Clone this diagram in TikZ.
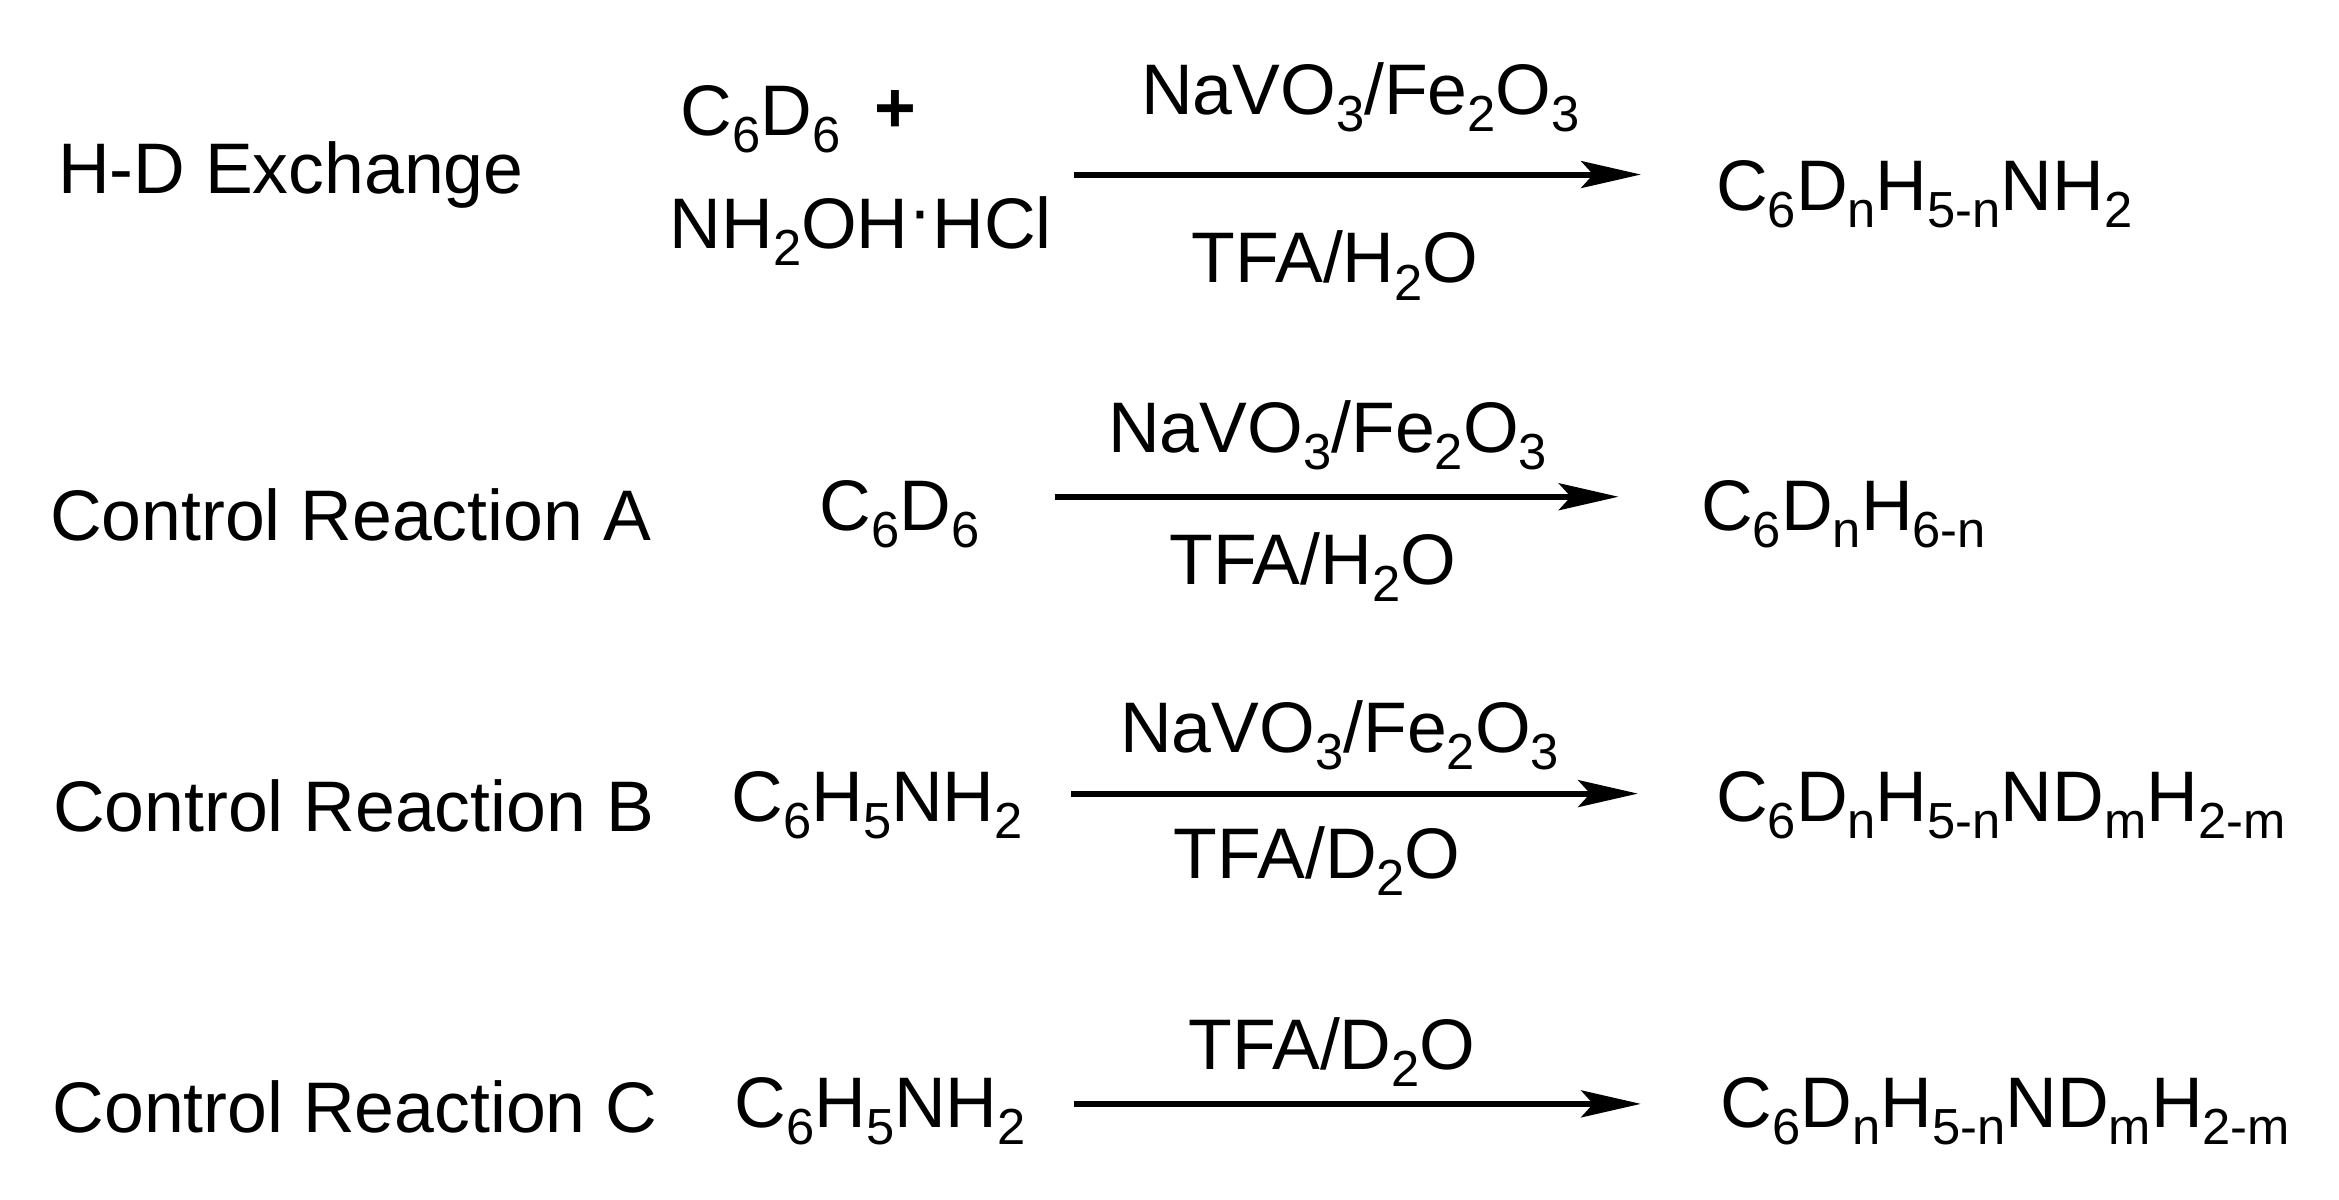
\documentclass[tikz,border=0pt]{standalone}
\usepackage{fontspec}
\setmainfont{Liberation Sans}
\usetikzlibrary{arrows.meta}
\newcommand{\sbs}[1]{\raisebox{-0.24em}{\fontsize{17}{19}\selectfont #1}}
\begin{document}
\begin{tikzpicture}[x=0.5pt,y=-0.5pt,
  every node/.style={font=\fontsize{24}{28}\selectfont, inner sep=0pt},
  rxn/.style={line width=2pt,-{Stealth[length=20pt,width=9pt,inset=4pt]}}]
\useasboundingbox (0,0) rectangle (1568,804);
% Row 1
\node (l1) at (195,117) {H-D Exchange};
\node (r1a) at (510,80) {C\sbs{6}D\sbs{6}};
\node (plus) at (600,75) {\textbf{+}};
\node (r1b) at (577,155) {NH\sbs{2}OH\raisebox{0.2em}{·}HCl};
\coordinate (a1s) at (720,117); \coordinate (a1e) at (1100,117);
\draw[rxn] (a1s) -- (a1e);
\node (c1t) at (912,65) {NaVO\sbs{3}/Fe\sbs{2}O\sbs{3}};
\node (c1b) at (895,178) {TFA/H\sbs{2}O};
\node[anchor=west] (p1) at (1150,130) {C\sbs{6}D\sbs{n}H\sbs{5-n}NH\sbs{2}};
% Row 2
\node (l2) at (235,345) {Control Reaction A};
\node (r2) at (603,345) {C\sbs{6}D\sbs{6}};
\coordinate (a2s) at (707,333); \coordinate (a2e) at (1085,333);
\draw[rxn] (a2s) -- (a2e);
\node (c2t) at (890,292) {NaVO\sbs{3}/Fe\sbs{2}O\sbs{3}};
\node (c2b) at (880,380) {TFA/H\sbs{2}O};
\node[anchor=west] (p2) at (1140,345) {C\sbs{6}D\sbs{n}H\sbs{6-n}};
% Row 3
\node (l3) at (237,540) {Control Reaction B};
\node (r3) at (588,540) {C\sbs{6}H\sbs{5}NH\sbs{2}};
\coordinate (a3s) at (718,532); \coordinate (a3e) at (1098,532);
\draw[rxn] (a3s) -- (a3e);
\node (c3t) at (898,493) {NaVO\sbs{3}/Fe\sbs{2}O\sbs{3}};
\node (c3b) at (883,577) {TFA/D\sbs{2}O};
\node[anchor=west] (p3) at (1150,540) {C\sbs{6}D\sbs{n}H\sbs{5-n}ND\sbs{m}H\sbs{2-m}};
% Row 4
\node (l4) at (238,742) {Control Reaction C};
\node (r4) at (590,745) {C\sbs{6}H\sbs{5}NH\sbs{2}};
\coordinate (a4s) at (720,740); \coordinate (a4e) at (1100,740);
\draw[rxn] (a4s) -- (a4e);
\node (c4t) at (893,705) {TFA/D\sbs{2}O};
\node[anchor=west] (p4) at (1153,745) {C\sbs{6}D\sbs{n}H\sbs{5-n}ND\sbs{m}H\sbs{2-m}};
\end{tikzpicture}
\end{document}
